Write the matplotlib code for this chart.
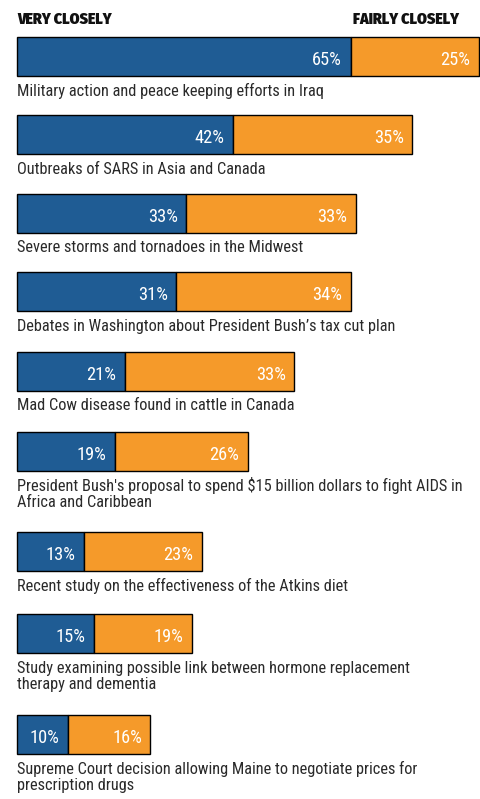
import matplotlib.pyplot as plt

# Data
topics = [
    "Military action and peace keeping efforts in Iraq",
    "Outbreaks of SARS in Asia and Canada",
    "Severe storms and tornadoes in the Midwest",
    "Debates in Washington about President Bush\u2019s tax cut plan",
    "Mad Cow disease found in cattle in Canada",
    "President Bush's proposal to spend $15 billion dollars to fight AIDS in\nAfrica and Caribbean",
    "Recent study on the effectiveness of the Atkins diet",
    "Study examining possible link between hormone replacement\ntherapy and dementia",
    "Supreme Court decision allowing Maine to negotiate prices for\nprescription drugs",
]
very_closely = [65, 42, 33, 31, 21, 19, 13, 15, 10]
fairly_closely = [25, 35, 33, 34, 33, 26, 23, 19, 16]

# layout (pixel rows of bar centres)
bar_centers = [56.5, 134.5, 213, 291.5, 371, 451.5, 551.5, 633.5, 734.5]
bar_h = 39

fam = ['Roboto Condensed', 'Archivo Narrow', 'DejaVu Sans']
fam_b = ['Fira Sans Condensed', 'DejaVu Sans']

blue = '#1f5c94'
orange = '#f59a2a'

fig = plt.figure(figsize=(4.8, 7.99), dpi=100)
ax = fig.add_axes([0, 0, 1, 1])
px = 462 / 90.0
ax.set_xlim(-17 / px, (480 - 17) / px)
ax.set_ylim(799, 0)
ax.axis('off')

ax.barh(bar_centers, very_closely, height=bar_h, color=blue,
        edgecolor='black', linewidth=1.0)
ax.barh(bar_centers, fairly_closely, left=very_closely, height=bar_h,
        color=orange, edgecolor='black', linewidth=1.0)

pad = 8.5 / px
for i in range(len(topics)):
    yc = bar_centers[i]
    v = very_closely[i]
    f = fairly_closely[i]
    ax.text(v - pad, yc + 8.5, '%d%%' % v, color='white', fontsize=13.2,
            ha='right', va='baseline', family=fam)
    ax.text(v + f - pad, yc + 8.5, '%d%%' % f, color='white', fontsize=13.2,
            ha='right', va='baseline', family=fam)
    base = yc + bar_h / 2 + 20
    for k, line in enumerate(topics[i].split('\n')):
        ax.text(0, base + 16 * k, line, color='#2a2a2a', fontsize=11.8,
                ha='left', va='baseline', family=fam)

ax.text(0, 24, 'VERY CLOSELY', fontsize=11.4, fontweight='black',
        ha='left', va='baseline', family=fam_b, color='#111111')
ax.text((459 - 17) / px, 24, 'FAIRLY CLOSELY', fontsize=11.4,
        fontweight='black', ha='right', va='baseline', family=fam_b,
        color='#111111')

fig.savefig('out.png', dpi=100)
